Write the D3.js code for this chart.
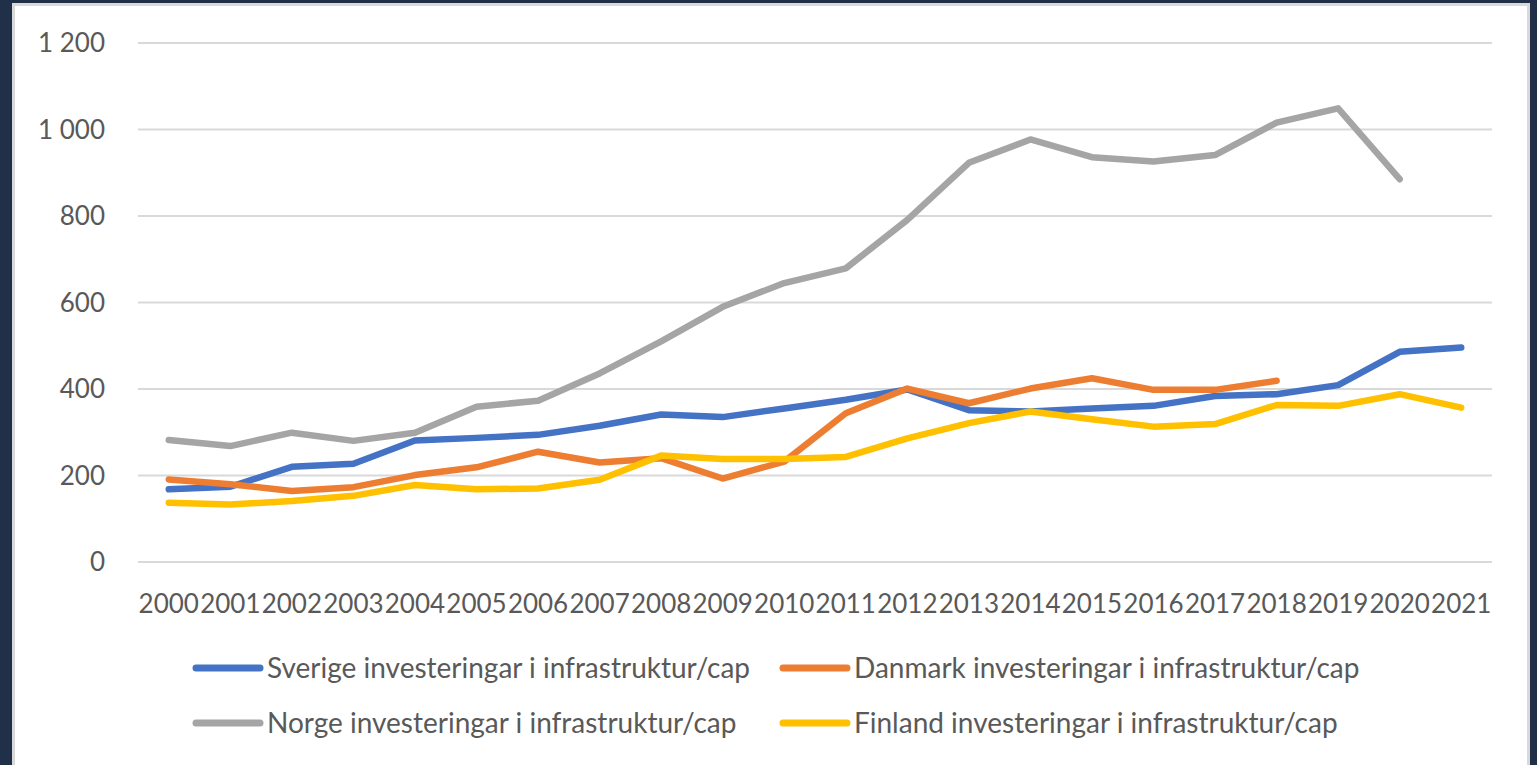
<!DOCTYPE html>
<html>
<head>
<meta charset="utf-8">
<script src="https://cdn.jsdelivr.net/npm/d3@7"></script>
<style>
    body { margin: 0; background: #1f3048; }
    svg { display: block; }
</style>
</head>
<body>
<div id="viz"></div>
<script>
let years = ['2000', '2001', '2002', '2003', '2004', '2005', '2006', '2007', '2008', '2009', '2010',
    '2011', '2012', '2013', '2014', '2015', '2016', '2017', '2018', '2019', '2020', '2021'];
let yTicks = [0, 200, 400, 600, 800, 1000, 1200];

let sverige = [168, 174, 220, 227, 281, 287, 294, 315, 341, 335, 355, 375, 399, 351, 348, 355, 361, 384, 388, 409, 486, 496];
let danmark = [191, 180, 164, 173, 201, 219, 255, 230, 240, 193, 232, 344, 401, 367, 401, 425, 398, 398, 419, null, null, null];
let norge = [282, 268, 299, 280, 299, 359, 373, 436, 510, 590, 645, 679, 791, 923, 977, 936, 926, 941, 1016, 1049, 885, null];
let finland = [137, 133, 141, 153, 178, 168, 170, 190, 246, 238, 238, 243, 286, 321, 348, 330, 313, 319, 363, 361, 388, 357];

let seriesNames = ['Sverige investeringar i infrastruktur/cap', 'Danmark investeringar i infrastruktur/cap',
    'Norge investeringar i infrastruktur/cap', 'Finland investeringar i infrastruktur/cap'];
let seriesColors = ['#4472c4', '#ed7d31', '#a5a5a5', '#ffc000'];

let width = 1537, height = 765;
let font = 'Lato, "Noto Sans", sans-serif';

window.onload = function () {
    let svg = d3.select('#viz').append('svg')
        .attr('width', width)
        .attr('height', height);

    // white panel
    svg.append('rect')
        .attr('x', 13.5).attr('y', 4.5)
        .attr('width', 1515).attr('height', 780)
        .attr('fill', '#ffffff')
        .attr('stroke', '#d9d9d9')
        .attr('stroke-width', 3);

    let x = d3.scaleBand().domain(years).range([138, 1492]);
    let y = d3.scaleLinear().domain([0, 1200]).range([562, 43]);

    // gridlines
    svg.append('g')
        .selectAll('line')
        .data(yTicks)
        .enter()
        .append('line')
        .attr('x1', 138).attr('x2', 1492)
        .attr('y1', d => y(d)).attr('y2', d => y(d))
        .attr('stroke', '#d9d9d9')
        .attr('stroke-width', 2);

    // y labels
    let fmt = d => d3.format(',')(d).replace(',', ' ');
    svg.append('g')
        .selectAll('text')
        .data(yTicks)
        .enter()
        .append('text')
        .attr('x', 105)
        .attr('y', d => y(d))
        .attr('dy', '0.35em')
        .attr('text-anchor', 'end')
        .style('font-family', font)
        .style('font-size', '26px')
        .attr('fill', '#595959')
        .text(fmt);

    // x labels
    svg.append('g')
        .selectAll('text')
        .data(years)
        .enter()
        .append('text')
        .attr('x', d => x(d) + x.bandwidth() / 2)
        .attr('y', 613)
        .attr('text-anchor', 'middle')
        .style('font-family', font)
        .style('font-size', '26px')
        .attr('fill', '#595959')
        .text(d => d);

    let allSeries = [sverige, danmark, norge, finland];
    let line = d3.line()
        .defined(d => d[1] != null)
        .x(d => x(d[0]) + x.bandwidth() / 2)
        .y(d => y(d[1]));

    // draw in excel order: sverige, danmark, norge, finland
    allSeries.forEach((s, i) => {
        svg.append('path')
            .datum(years.map((yr, j) => [yr, s[j]]))
            .attr('d', line)
            .attr('fill', 'none')
            .attr('stroke', seriesColors[i])
            .attr('stroke-width', 6.5)
            .attr('stroke-linejoin', 'round')
            .attr('stroke-linecap', 'round');
    });

    // legend
    let legendPos = [[193, 668], [780, 668], [193, 723], [780, 723]];
    seriesNames.forEach((name, i) => {
        let g = svg.append('g').attr('transform', 'translate(' + legendPos[i][0] + ',' + legendPos[i][1] + ')');
        g.append('line')
            .attr('x1', 3).attr('x2', 67)
            .attr('y1', 0).attr('y2', 0)
            .attr('stroke', seriesColors[i])
            .attr('stroke-width', 7)
            .attr('stroke-linecap', 'round');
        g.append('text')
            .attr('x', 74)
            .attr('y', 0)
            .attr('dy', '0.35em')
            .style('font-family', font)
            .style('font-size', '28px')
            .attr('fill', '#595959')
            .text(name);
    });
};
</script>
</body>
</html>
